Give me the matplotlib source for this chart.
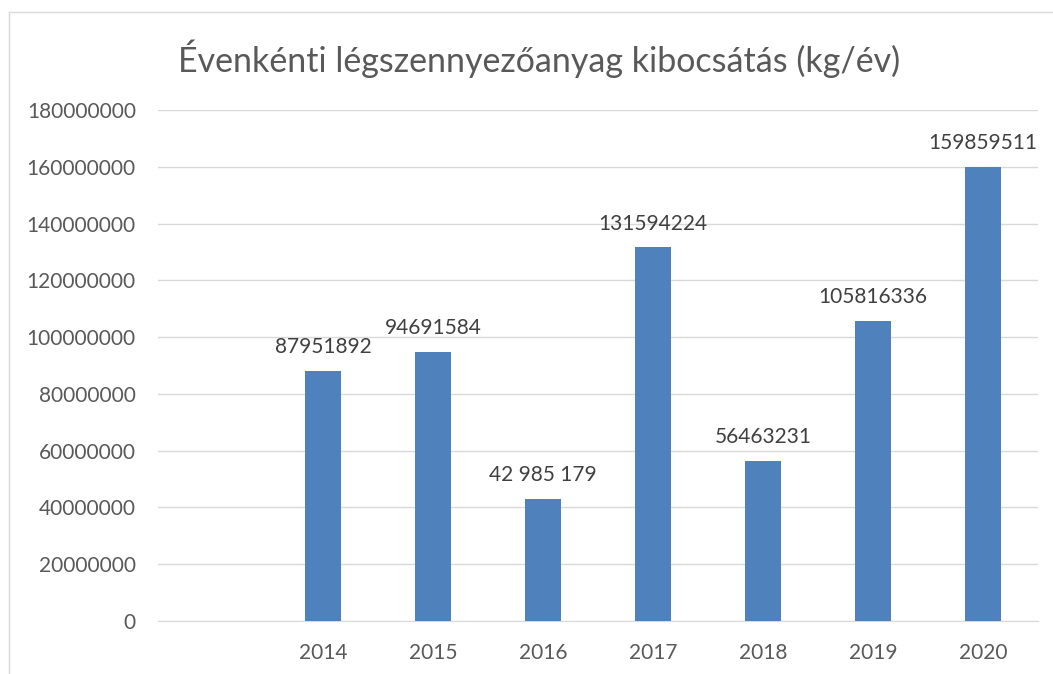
import matplotlib
matplotlib.use("Agg")
import matplotlib.pyplot as plt
from matplotlib.lines import Line2D

categories = ["", "2014", "2015", "2016", "2017", "2018", "2019", "2020"]
values = [0, 87951892, 94691584, 42985179, 131594224, 56463231, 105816336, 159859511]
value_labels = ["", "87951892", "94691584", "42 985 179", "131594224", "56463231", "105816336", "159859511"]
yticks = list(range(0, 180000001, 20000000))

plt.rcParams['font.family'] = ['Lato', 'DejaVu Sans']

fig = plt.figure(figsize=(10.53, 6.74), dpi=100)
ax = fig.add_axes([158/1053, 53/674, 880/1053, 511/674])

x = list(range(len(categories)))
ax.bar(x[1:], values[1:], width=0.32, color="#4F81BD", zorder=3)
for xi, v, lab in zip(x, values, value_labels):
    if lab:
        ax.annotate(lab, (xi, v), xytext=(0, 10), textcoords="offset points",
                    ha="center", va="bottom", fontsize=15, color="#404040")

ax.set_xlim(-0.5, len(categories) - 0.5)
ax.set_ylim(0, 180000000)
ax.set_yticks(yticks)
ax.set_yticklabels([str(t) for t in yticks])
ax.set_xticks(x)
ax.set_xticklabels(categories)
ax.tick_params(axis="both", length=0, labelsize=15, labelcolor="#595959")
ax.tick_params(axis="y", pad=16)
ax.tick_params(axis="x", pad=16)
ax.grid(axis="y", color="#D9D9D9", linewidth=1, zorder=0)
for s in ["top", "right", "left"]:
    ax.spines[s].set_visible(False)
ax.spines["bottom"].set_color("#D9D9D9")

fig.text(539/1053, 1 - 59/674, "Évenkénti légszennyezőanyag kibocsátás (kg/év)",
         ha="center", va="center", fontsize=24.5, color="#595959")

fig.add_artist(Line2D([9/1053, 9/1053], [0, 1 - 12/674], transform=fig.transFigure, color="#D9D9D9", lw=1))
fig.add_artist(Line2D([9/1053, 1], [1 - 12/674, 1 - 12/674], transform=fig.transFigure, color="#D9D9D9", lw=1))

fig.savefig("out.png", dpi=100)
